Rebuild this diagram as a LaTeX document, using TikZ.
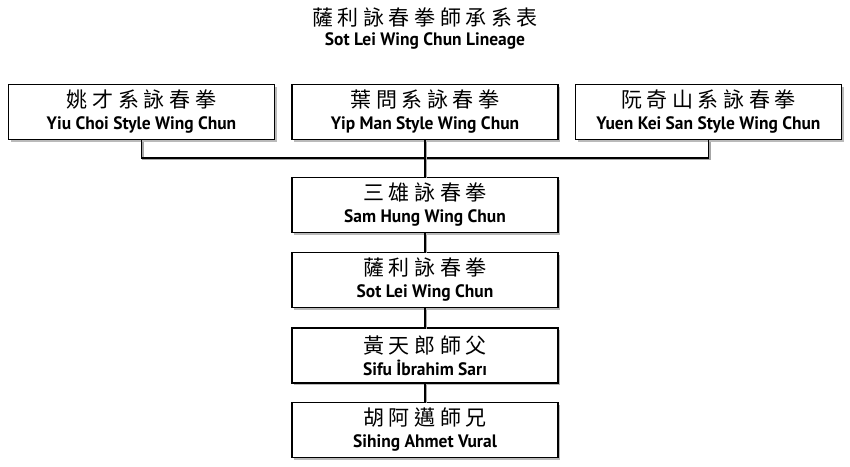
\documentclass[tikz,border=0pt]{standalone}
\usepackage{fontspec}
\setmainfont[FakeStretch=0.97]{PT Sans}
\newfontfamily\cjk[LetterSpace=22]{Noto Sans CJK TC}
\usetikzlibrary{shadows}

\tikzset{
  lbox/.style={draw, line width=1.6pt, fill=white, minimum width=266pt, minimum height=55pt,
    align=center, inner sep=0pt, font=\bfseries\fontsize{18}{22}\selectfont,
    drop shadow={shadow xshift=2pt, shadow yshift=-2pt, opacity=.45, fill=black!60}},
  link/.style={line width=1.6pt,
    preaction={draw, black!35, line width=1.6pt, transform canvas={shift={(1.5pt,-1.5pt)}}}}
}
\newcommand{\hanzi}[1]{{\cjk\mdseries\fontsize{21}{22}\selectfont #1}}

\begin{document}
\begin{tikzpicture}[x=1pt,y=-1pt]
\useasboundingbox (0,0) rectangle (850,466);
% title
\node (title) at (425,29) [align=center, font=\bfseries\fontsize{18}{20}\selectfont]
  {\hanzi{薩利詠春拳師承系表}\\[0pt] Sot Lei Wing Chun Lineage};
% styles
\node[lbox] (yiuchoi) at (141.5,112) {\hanzi{姚才系詠春拳}\\ Yiu Choi Style Wing Chun};
\node[lbox] (yipman) at (425,112) {\hanzi{葉問系詠春拳}\\ Yip Man Style Wing Chun};
\node[lbox] (yuenkeisan) at (708.5,112) {\hanzi{阮奇山系詠春拳}\\ Yuen Kei San Style Wing Chun};
% lineage
\node[lbox] (samhung) at (425,205) {\hanzi{三雄詠春拳}\\ Sam Hung Wing Chun};
\node[lbox] (sotlei) at (425,280) {\hanzi{薩利詠春拳}\\ Sot Lei Wing Chun};
\node[lbox] (ibrahim) at (425,355.5) {\hanzi{黃天郎師父}\\ Sifu İbrahim Sarı};
\node[lbox] (ahmet) at (425,430) {\hanzi{胡阿邁師兄}\\ Sihing Ahmet Vural};
\coordinate (bar) at (425,158);
\draw[link] (yiuchoi.south) |- (bar) -| (yuenkeisan.south);
\draw[link] (yipman.south) -- (samhung.north);
\draw[link] (samhung.south) -- (sotlei.north);
\draw[link] (sotlei.south) -- (ibrahim.north);
\draw[link] (ibrahim.south) -- (ahmet.north);
\end{tikzpicture}
\end{document}
